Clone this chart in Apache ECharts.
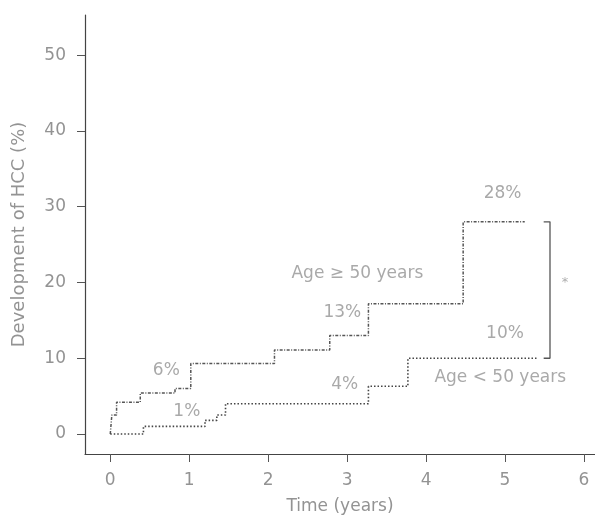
<!DOCTYPE html>
<html>
<head>
<meta charset="utf-8">
<script src="https://cdn.jsdelivr.net/npm/echarts@6/dist/echarts.min.js"></script>
<style>
  html, body { margin: 0; padding: 0; background: #ffffff; }
  #chart { width: 595px; height: 524px; }
</style>
</head>
<body>
<div id="chart"></div>
<script>
// Axis ticks
const yearTicks = [0, 1, 2, 3, 4, 5, 6];
const pctTicks = [0, 10, 20, 30, 40, 50];

// Cumulative HCC incidence, patients aged >= 50 years (step changes)
const olderTimes = [0, 0.02, 0.08, 0.38, 0.82, 1.02, 2.08, 2.78, 3.27, 4.47, 5.25];
const olderPct   = [0, 2.5, 4.2, 5.4, 6, 9.3, 11.1, 13, 17.2, 28, 28];

// Cumulative HCC incidence, patients aged < 50 years (step changes)
const youngerTimes = [0, 0.42, 1.2, 1.35, 1.46, 3.27, 3.77, 5.42];
const youngerPct   = [0, 1, 1.8, 2.5, 4, 6.3, 10, 10];

// Bracket comparing the two end values, and the significance mark
const bracketTimes = [5.49, 5.57];
const sigTime = 5.76, sigPct = 20, sigText = '*';

// Text annotations
const noteText = ['28%', 'Age \u2265 50 years', '13%', '6%', '1%', '4%', '10%', 'Age < 50 years'];
const noteTime = [4.97, 3.13, 2.94, 0.71, 0.97, 2.97, 5.0, 4.94];
const notePct  = [31.7, 21.2, 16.0, 8.4, 2.9, 6.5, 13.3, 7.5];

const pairs = (xs, ys) => xs.map((x, i) => [x, ys[i]]);

const textGrey = '#939393';
const font = 'DejaVu Sans';

const olderEnd = olderPct[olderPct.length - 1];
const youngerEnd = youngerPct[youngerPct.length - 1];

const chart = echarts.init(document.getElementById('chart'), null, { renderer: 'canvas' });
chart.setOption({
  animation: false,
  backgroundColor: '#ffffff',
  grid: { left: 85, right: 0, top: 15, bottom: 70 },
  xAxis: {
    type: 'value',
    min: -0.32,
    max: 6.14,
    name: 'Time (years)',
    nameLocation: 'middle',
    nameGap: 44,
    nameTextStyle: { fontFamily: font, fontSize: 17, color: textGrey },
    axisLine: { show: true, onZero: false, lineStyle: { color: '#444', width: 1.2 } },
    axisTick: { show: true, inside: false, length: 8, customValues: yearTicks, lineStyle: { color: '#555', width: 1 } },
    axisLabel: { customValues: yearTicks, margin: 18, fontFamily: font, fontSize: 17, color: textGrey },
    splitLine: { show: false }
  },
  yAxis: {
    type: 'value',
    min: -2.64,
    max: 55.3,
    name: 'Development of HCC (%)',
    nameLocation: 'middle',
    nameGap: 57,
    nameRotate: 90,
    nameTextStyle: { fontFamily: font, fontSize: 18, color: textGrey },
    axisLine: { show: true, onZero: false, lineStyle: { color: '#444', width: 1.2 } },
    axisTick: { show: true, inside: false, length: 8, customValues: pctTicks, lineStyle: { color: '#555', width: 1 } },
    axisLabel: { customValues: pctTicks, margin: 19, fontFamily: font, fontSize: 17, color: textGrey },
    splitLine: { show: false }
  },
  series: [
    {
      name: 'Age >= 50 years',
      type: 'line',
      step: 'end',
      showSymbol: false,
      data: pairs(olderTimes, olderPct),
      lineStyle: { color: '#555', width: 1.5, type: [3, 1.5, 1, 1.5] }
    },
    {
      name: 'Age < 50 years',
      type: 'line',
      step: 'end',
      showSymbol: false,
      data: pairs(youngerTimes, youngerPct),
      lineStyle: { color: '#444', width: 1.6, type: [1.5, 2] }
    },
    {
      name: 'bracket',
      type: 'line',
      showSymbol: false,
      data: [
        [bracketTimes[0], olderEnd],
        [bracketTimes[1], olderEnd],
        [bracketTimes[1], youngerEnd],
        [bracketTimes[0], youngerEnd]
      ],
      lineStyle: { color: '#555', width: 1.3 }
    },
    {
      name: 'significance',
      type: 'scatter',
      symbolSize: 0,
      data: [{ value: [sigTime, sigPct], name: sigText }],
      label: { show: true, position: 'inside', formatter: '{b}', fontFamily: font, fontSize: 13, color: '#999' }
    },
    {
      name: 'notes',
      type: 'scatter',
      symbolSize: 0,
      data: noteText.map((t, i) => ({ value: [noteTime[i], notePct[i]], name: t })),
      label: { show: true, position: 'inside', formatter: '{b}', fontFamily: font, fontSize: 17, color: textGrey }
    }
  ]
});
</script>
</body>
</html>
